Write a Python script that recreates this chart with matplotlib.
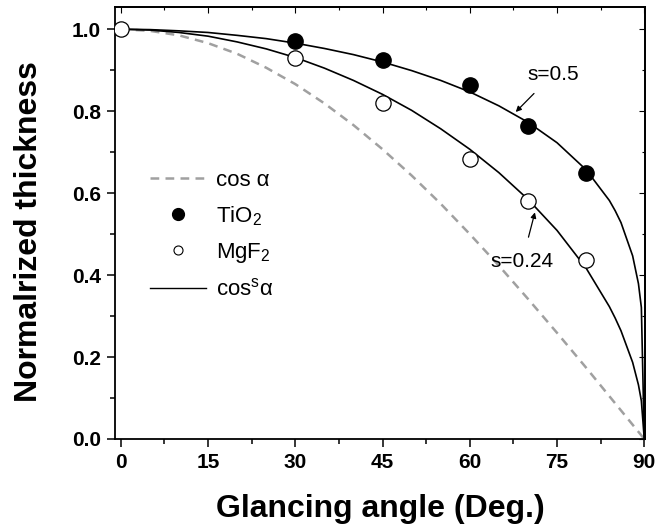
import matplotlib
matplotlib.use("Agg")
import matplotlib.pyplot as plt
from matplotlib.lines import Line2D
from matplotlib.ticker import MultipleLocator

plt.rcParams['font.family'] = ['Liberation Sans', 'DejaVu Sans']
plt.rcParams['mathtext.fontset'] = 'custom'
plt.rcParams['mathtext.rm'] = 'Liberation Sans'
plt.rcParams['mathtext.it'] = 'Liberation Sans:italic'
plt.rcParams['mathtext.bf'] = 'Liberation Sans:bold'
plt.rcParams['mathtext.default'] = 'regular'

# measured data
tio2_angle = [30, 45, 60, 70, 80]
tio2_thick = [0.971, 0.924, 0.863, 0.763, 0.649]
mgf2_angle = [0, 30, 45, 60, 70, 80]
mgf2_thick = [1.0, 0.929, 0.820, 0.683, 0.580, 0.437]

# curves
cos_angle = [0, 5, 10, 15, 20, 25, 30, 35, 40, 45, 50, 55, 60, 65, 70, 75, 80, 85, 90]
cos_val = [1.0, 0.996, 0.985, 0.966, 0.940, 0.906, 0.866, 0.819, 0.766, 0.707,
           0.643, 0.574, 0.500, 0.423, 0.342, 0.259, 0.174, 0.087, 0.0]

fit_angle = [0, 5, 10, 15, 20, 25, 30, 35, 40, 45, 50, 55, 60, 65, 70, 75, 80,
             84, 85, 86, 88, 89, 89.5, 90]
fit_upper = [1.0, 0.999, 0.996, 0.992, 0.985, 0.977, 0.966, 0.953, 0.938, 0.920,
             0.899, 0.875, 0.847, 0.813, 0.773, 0.723, 0.657,
             0.582, 0.557, 0.528, 0.447, 0.379, 0.321, 0.0]
fit_lower = [1.0, 0.998, 0.992, 0.983, 0.969, 0.952, 0.931, 0.905, 0.875, 0.841,
             0.802, 0.757, 0.707, 0.650, 0.585, 0.509, 0.417,
             0.323, 0.295, 0.264, 0.187, 0.132, 0.093, 0.0]

x_ticks = [0, 15, 30, 45, 60, 75, 90]
y_ticks = [0.0, 0.2, 0.4, 0.6, 0.8, 1.0]

fig = plt.figure(figsize=(6.56, 5.28), dpi=100)
ax = fig.add_axes([0.1753, 0.1686, 0.8077, 0.818])

ax.plot(cos_angle, cos_val, linestyle=(0, (3.5, 2.5)), color='#a0a0a0', lw=1.8)
ax.plot(fit_angle, fit_upper, color='black', lw=1.2)
ax.plot(fit_angle, fit_lower, color='black', lw=1.2)
ax.plot(tio2_angle, tio2_thick, 'o', color='black', ms=11, zorder=5)
ax.plot(mgf2_angle, mgf2_thick, 'o', mfc='white', mec='black', mew=0.9, ms=11, zorder=5)

ax.annotate('s=0.5', xy=(67.9, 0.798), xytext=(74.3, 0.890), ha='center', va='center',
            fontsize=15, arrowprops=dict(arrowstyle='-|>', color='black', lw=0.9,
                                          mutation_scale=8, shrinkA=7, shrinkB=0))
ax.annotate('s=0.24', xy=(71.2, 0.553), xytext=(69.0, 0.433), ha='center', va='center',
            fontsize=15, arrowprops=dict(arrowstyle='-|>', color='black', lw=0.9,
                                          mutation_scale=8, shrinkA=9, shrinkB=0))

ax.set_xlim(-1.0, 90.1)
ax.set_ylim(0, 1.054)
ax.set_xticks(x_ticks)
ax.set_yticks(y_ticks)
ax.set_xticklabels([str(v) for v in x_ticks])
ax.set_yticklabels([f'{v:.1f}' for v in y_ticks])
ax.xaxis.set_minor_locator(MultipleLocator(7.5))
ax.yaxis.set_minor_locator(MultipleLocator(0.1))
ax.tick_params(which='both', direction='out', width=1.1, top=False, right=False)
ax.tick_params(which='major', length=6, labelsize=15, pad=4)
ax.tick_params(which='minor', length=3.5)
for lab in ax.get_xticklabels() + ax.get_yticklabels():
    lab.set_fontweight('bold')

# inward ticks on top/right
axt = ax.secondary_xaxis('top')
axt.set_xticks(x_ticks)
axt.xaxis.set_minor_locator(MultipleLocator(7.5))
axt.tick_params(which='both', direction='in', labeltop=False, width=0.8)
axt.tick_params(which='major', length=4)
axt.tick_params(which='minor', length=2)
axr = ax.secondary_yaxis('right')
axr.set_yticks(y_ticks)
axr.yaxis.set_minor_locator(MultipleLocator(0.1))
axr.tick_params(which='both', direction='in', labelright=False, width=0.8)
axr.tick_params(which='major', length=4)
axr.tick_params(which='minor', length=2)

for s in ax.spines.values():
    s.set_linewidth(1.3)
axt.spines['top'].set_linewidth(1.3)
axr.spines['right'].set_linewidth(1.3)

ax.set_xlabel('Glancing angle (Deg.)', fontsize=23, fontweight='bold', labelpad=16)
ax.set_ylabel('Normalrized thickness', fontsize=23, fontweight='bold')
ax.yaxis.set_label_coords(-0.134, 0.48)

handles = [
    Line2D([], [], linestyle=(0, (3.5, 2.5)), color='#a0a0a0', lw=1.8),
    Line2D([], [], marker='o', linestyle='none', color='black', ms=8.5),
    Line2D([], [], marker='o', linestyle='none', mfc='white', mec='black', mew=0.8, ms=6.5),
    Line2D([], [], color='black', lw=1.0),
]
labels = ['cos α', 'TiO$_2$', 'MgF$_2$', 'cos$^s$α']
ax.legend(handles, labels, loc='center left', bbox_to_anchor=(0.066, 0.472), frameon=False,
          fontsize=16, handlelength=2.5, handletextpad=0.45, labelspacing=0.6,
          borderaxespad=0, borderpad=0)

fig.savefig('out.png', dpi=100)
